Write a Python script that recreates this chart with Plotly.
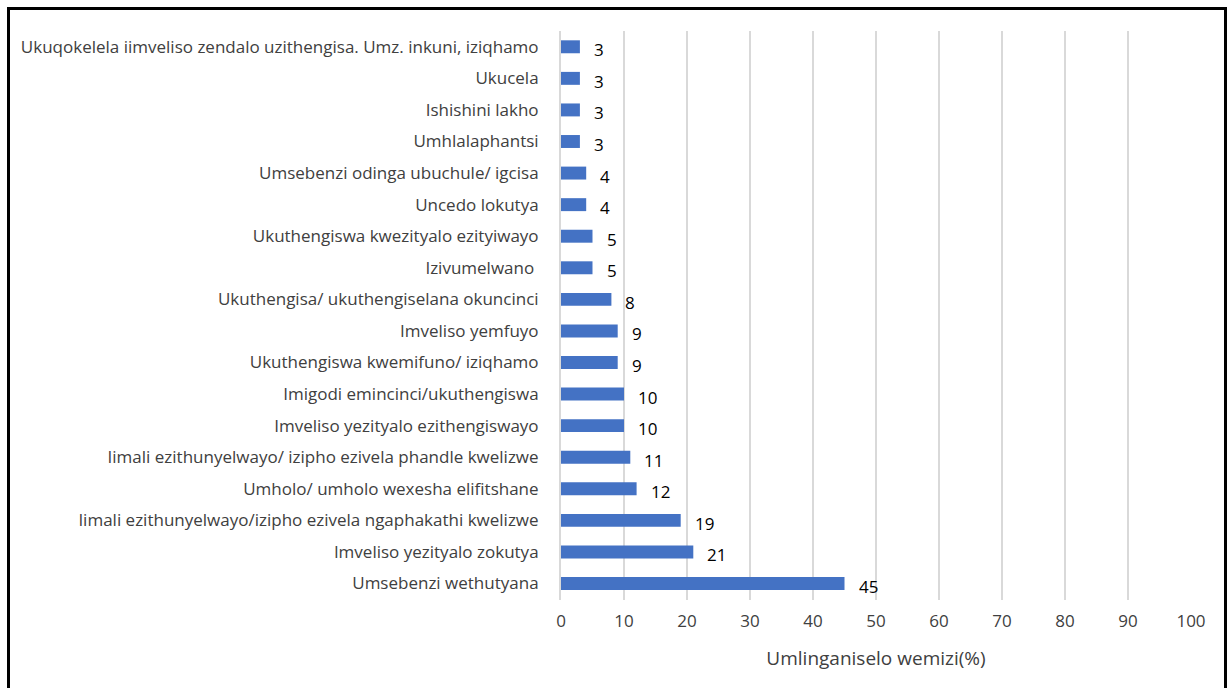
import plotly.graph_objects as go

categories = [
    "Ukuqokelela iimveliso zendalo uzithengisa. Umz. inkuni, iziqhamo",
    "Ukucela",
    "Ishishini lakho",
    "Umhlalaphantsi",
    "Umsebenzi odinga ubuchule/ igcisa",
    "Uncedo lokutya",
    "Ukuthengiswa kwezityalo ezityiwayo",
    "Izivumelwano ",
    "Ukuthengisa/ ukuthengiselana okuncinci",
    "Imveliso yemfuyo",
    "Ukuthengiswa kwemifuno/ iziqhamo",
    "Imigodi emincinci/ukuthengiswa",
    "Imveliso yezityalo ezithengiswayo",
    "Iimali ezithunyelwayo/ izipho ezivela phandle kwelizwe",
    "Umholo/ umholo wexesha elifitshane",
    "Iimali ezithunyelwayo/izipho ezivela ngaphakathi kwelizwe",
    "Imveliso yezityalo zokutya",
    "Umsebenzi wethutyana",
]
values = [3, 3, 3, 3, 4, 4, 5, 5, 8, 9, 9, 10, 10, 11, 12, 19, 21, 45]
x_ticks = [0, 10, 20, 30, 40, 50, 60, 70, 80, 90, 100]
x_title = "Umlinganiselo wemizi(%)"

W, H = 1230, 688
FONT = "Open Sans"
TXT = "#404040"

fig = go.Figure()
fig.add_trace(go.Bar(
    x=values, y=categories, orientation="h",
    marker=dict(color="#4472C4", line=dict(width=0)),
    width=0.41, hoverinfo="x+y",
))

for c, v in zip(categories, values):
    fig.add_annotation(
        x=v, y=c, xref="x", yref="y", text=str(v), showarrow=False,
        xanchor="left", yanchor="middle", xshift=12, yshift=-3,
        font=dict(family=FONT, size=17, color="#000000"),
    )

# chart frame
fig.add_shape(type="rect", xref="paper", yref="paper",
              x0=8.5 / W, x1=1225.5 / W, y0=-0.05, y1=1 - 8.5 / H,
              line=dict(color="#000000", width=3), fillcolor="rgba(0,0,0,0)")

fig.update_layout(
    width=W, height=H,
    margin=dict(l=0, r=0, t=0, b=0),
    paper_bgcolor="white", plot_bgcolor="white",
    showlegend=False,
    font=dict(family=FONT, size=17, color=TXT),
    xaxis=dict(
        domain=[561 / W, 1191 / W],
        range=[0, 100], tickvals=x_ticks, ticktext=[str(t) for t in x_ticks],
        showgrid=True, gridcolor="#D9D9D9", gridwidth=2,
        zeroline=False, showline=False, ticks="",
        automargin=False, ticklabelstandoff=9,
        tickfont=dict(family=FONT, size=17, color=TXT),
        title=dict(text=x_title, font=dict(family=FONT, size=19, color=TXT), standoff=20),
        fixedrange=True,
    ),
    yaxis=dict(
        domain=[1 - 600 / H, 1 - 31 / H],
        categoryorder="array", categoryarray=categories[::-1],
        showgrid=False, zeroline=False, ticks="",
        showline=True, linecolor="#D9D9D9", linewidth=2,
        automargin=False, ticklabelstandoff=17,
        tickfont=dict(family=FONT, size=17, color=TXT),
        fixedrange=True,
    ),
    bargap=0.59,
)

fig.write_html("out.html")
